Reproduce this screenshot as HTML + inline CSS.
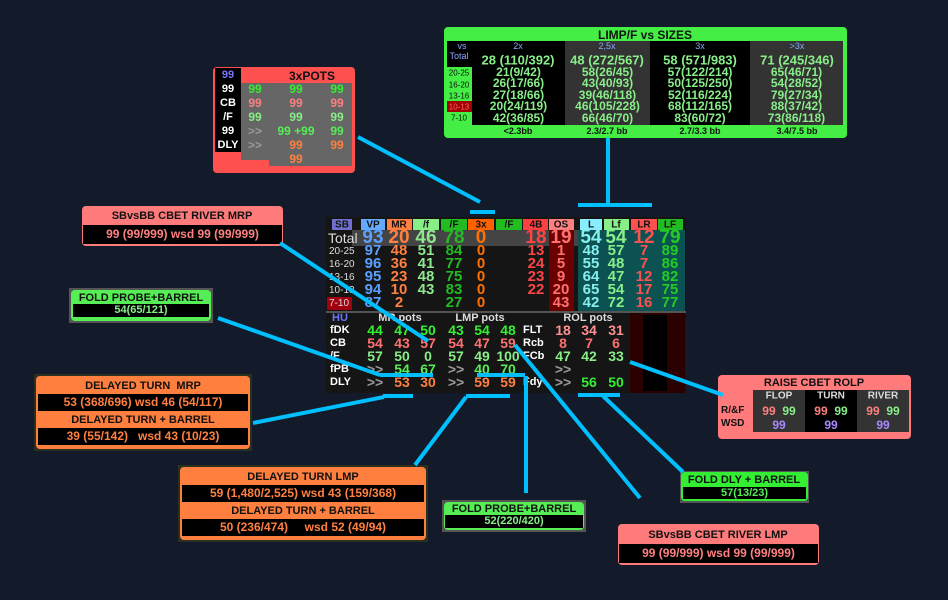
<!DOCTYPE html>
<html><head><meta charset="utf-8"><style>
*{margin:0;padding:0;box-sizing:border-box}
body{width:948px;height:600px;background:#131a2a;position:relative;overflow:hidden;font-family:"Liberation Sans",sans-serif;font-weight:bold}
.a{position:absolute;white-space:nowrap}
.c{position:absolute;white-space:nowrap;text-align:center;transform:translate(-50%,-50%)}
.box{position:absolute;border-radius:4px}
.row{position:absolute;background:#000;text-align:center;white-space:nowrap}
</style></head><body>

<!-- LIMP/F vs SIZES -->
<div class="box" style="left:444px;top:27px;width:403px;height:111px;background:#44ee44"></div>
<div class="c" style="left:645px;top:35px;font-size:12px;color:#111">LIMP/F vs SIZES</div>
<div class="a" style="left:447px;top:41px;width:396px;height:84px;background:#000"></div>
<div class="a" style="left:447px;top:67px;width:25px;height:58px;background:#44ee44"></div>
<div class="a" style="left:447px;top:101px;width:25px;height:11px;background:#a00000"></div>
<div class="a" style="left:565px;top:41px;width:85px;height:84px;background:#333"></div>
<div class="a" style="left:750px;top:41px;width:93px;height:84px;background:#333"></div>
<div class="c" style="left:462px;top:46px;font-size:9px;color:#88aaff;font-weight:normal">vs</div>
<div class="c" style="left:459px;top:56px;font-size:9px;color:#88aaff;font-weight:normal">Total</div>
<div class="c" style="left:518px;top:46px;font-size:9px;color:#88aaff;font-weight:normal">2x</div>
<div class="c" style="left:607px;top:46px;font-size:9px;color:#88aaff;font-weight:normal">2,5x</div>
<div class="c" style="left:700px;top:46px;font-size:9px;color:#88aaff;font-weight:normal">3x</div>
<div class="c" style="left:797px;top:46px;font-size:9px;color:#88aaff;font-weight:normal">&gt;3x</div>
<div class="c" style="left:518px;top:60px;font-size:13px;color:#88ee88">28 (110/392)</div>
<div class="c" style="left:607px;top:60px;font-size:13px;color:#88ee88">48 (272/567)</div>
<div class="c" style="left:700px;top:60px;font-size:13px;color:#88ee88">58 (571/983)</div>
<div class="c" style="left:797px;top:60px;font-size:13px;color:#88ee88">71 (245/346)</div>
<div class="c" style="left:459px;top:73px;font-size:8px;color:#111;font-weight:normal">20-25</div>
<div class="c" style="left:459px;top:85px;font-size:8px;color:#111;font-weight:normal">16-20</div>
<div class="c" style="left:459px;top:96px;font-size:8px;color:#111;font-weight:normal">13-16</div>
<div class="c" style="left:459px;top:107px;font-size:8px;color:#ff6666;font-weight:normal">10-13</div>
<div class="c" style="left:459px;top:118px;font-size:8px;color:#111;font-weight:normal">7-10</div>
<div class="a" style="left:472px;top:67px;width:93px;font-size:12px;color:#88ee88;line-height:11.4px;text-align:center">21(9/42)<br>26(17/66)<br>27(18/66)<br>20(24/119)<br>42(36/85)</div>
<div class="a" style="left:565px;top:67px;width:85px;font-size:12px;color:#88ee88;line-height:11.4px;text-align:center">58(26/45)<br>43(40/93)<br>39(46/118)<br>46(105/228)<br>66(46/70)</div>
<div class="a" style="left:650px;top:67px;width:100px;font-size:12px;color:#88ee88;line-height:11.4px;text-align:center">57(122/214)<br>50(125/250)<br>52(116/224)<br>68(112/165)<br>83(60/72)</div>
<div class="a" style="left:750px;top:67px;width:93px;font-size:12px;color:#88ee88;line-height:11.4px;text-align:center">65(46/71)<br>54(28/52)<br>79(27/34)<br>88(37/42)<br>73(86/118)</div>
<div class="c" style="left:518px;top:131px;font-size:9px;color:#111">&lt;2.3bb</div>
<div class="c" style="left:607px;top:131px;font-size:9px;color:#111">2.3/2.7 bb</div>
<div class="c" style="left:700px;top:131px;font-size:9px;color:#111">2.7/3.3 bb</div>
<div class="c" style="left:797px;top:131px;font-size:9px;color:#111">3.4/7.5 bb</div>

<!-- 3xPOTS -->
<div class="box" style="left:213px;top:67px;width:142px;height:106px;background:#ff5050"></div>
<div class="a" style="left:215px;top:68px;width:26px;height:84px;background:#000"></div>
<div class="a" style="left:241px;top:83px;width:111px;height:77px;background:#666"></div>
<div class="a" style="left:269px;top:152px;width:83px;height:14px;background:#666"></div>
<div class="c" style="left:312px;top:76px;font-size:12px;color:#111">3xPOTS</div>
<div class="c" style="left:228px;top:75px;font-size:11px;color:#7777ff">99</div>
<div class="c" style="left:228px;top:89px;font-size:11px;color:#fff">99</div>
<div class="c" style="left:228px;top:103px;font-size:11px;color:#fff">CB</div>
<div class="c" style="left:228px;top:117px;font-size:11px;color:#fff">/F</div>
<div class="c" style="left:228px;top:131px;font-size:11px;color:#fff">99</div>
<div class="c" style="left:228px;top:145px;font-size:11px;color:#fff">DLY</div>
<div class="c" style="left:255px;top:89px;font-size:12px;color:#33ee33">99</div>
<div class="c" style="left:296px;top:89px;font-size:12px;color:#33ee33">99</div>
<div class="c" style="left:337px;top:89px;font-size:12px;color:#33ee33">99</div>
<div class="c" style="left:255px;top:103px;font-size:12px;color:#ff8080">99</div>
<div class="c" style="left:296px;top:103px;font-size:12px;color:#ff8080">99</div>
<div class="c" style="left:337px;top:103px;font-size:12px;color:#ff8080">99</div>
<div class="c" style="left:255px;top:117px;font-size:12px;color:#88ee88">99</div>
<div class="c" style="left:296px;top:117px;font-size:12px;color:#88ee88">99</div>
<div class="c" style="left:337px;top:117px;font-size:12px;color:#88ee88">99</div>
<div class="c" style="left:255px;top:131px;font-size:12px;color:#999">&gt;&gt;</div>
<div class="c" style="left:296px;top:131px;font-size:12px;color:#55ee55">99 +99</div>
<div class="c" style="left:337px;top:131px;font-size:12px;color:#55ee55">99</div>
<div class="c" style="left:255px;top:145px;font-size:12px;color:#999">&gt;&gt;</div>
<div class="c" style="left:296px;top:145px;font-size:12px;color:#ff8040">99</div>
<div class="c" style="left:337px;top:145px;font-size:12px;color:#ff8040">99</div>
<div class="c" style="left:296px;top:159px;font-size:12px;color:#ff8040">99</div>

<!-- MAIN HUD -->
<div class="a" style="left:326px;top:217px;width:360px;height:176px;background:#151515"></div>
<div class="a" style="left:352px;top:230px;width:226px;height:16px;background:#444"></div>
<div class="a" style="left:549px;top:230px;width:25px;height:82px;background:#6a0000"></div>
<div class="a" style="left:578px;top:230px;width:107px;height:82px;background:#0d5252"></div>
<div class="a" style="left:326px;top:311px;width:360px;height:2px;background:#555"></div>
<div class="a" style="left:630px;top:313px;width:55px;height:80px;background:#2a0000"></div>
<div class="a" style="left:643px;top:315px;width:24px;height:76px;background:#000"></div>
<div class="a" style="left:327px;top:297px;width:25px;height:13px;background:#a00010"></div>

<div class="a" style="left:332px;top:219px;width:20px;height:11px;background:#7070d0"></div>
<div class="a" style="left:361px;top:219px;width:24px;height:11px;background:#66aaff"></div>
<div class="a" style="left:387px;top:219px;width:25px;height:11px;background:#ff8040"></div>
<div class="a" style="left:413px;top:219px;width:26px;height:11px;background:#88ee88"></div>
<div class="a" style="left:441px;top:219px;width:26px;height:11px;background:#22bb22"></div>
<div class="a" style="left:468px;top:219px;width:26px;height:11px;background:#ff6000"></div>
<div class="a" style="left:496px;top:219px;width:26px;height:11px;background:#22bb22"></div>
<div class="a" style="left:523px;top:219px;width:25px;height:11px;background:#ff4040"></div>
<div class="a" style="left:549px;top:219px;width:25px;height:11px;background:#ff8080"></div>
<div class="a" style="left:580px;top:219px;width:22px;height:11px;background:#88eeff"></div>
<div class="a" style="left:604px;top:219px;width:25px;height:11px;background:#88ee88"></div>
<div class="a" style="left:631px;top:219px;width:26px;height:11px;background:#ff5050"></div>
<div class="a" style="left:658px;top:219px;width:25px;height:11px;background:#22bb22"></div>
<div class="c" style="left:342px;top:225px;font-size:10px;color:#111">SB</div>
<div class="c" style="left:373px;top:225px;font-size:10px;color:#111">VP</div>
<div class="c" style="left:399px;top:225px;font-size:10px;color:#111">MR</div>
<div class="c" style="left:426px;top:225px;font-size:10px;color:#111">/f</div>
<div class="c" style="left:454px;top:225px;font-size:10px;color:#111">/F</div>
<div class="c" style="left:481px;top:225px;font-size:10px;color:#111">3x</div>
<div class="c" style="left:509px;top:225px;font-size:10px;color:#111">/F</div>
<div class="c" style="left:536px;top:225px;font-size:10px;color:#111">4B</div>
<div class="c" style="left:561px;top:225px;font-size:10px;color:#111">OS</div>
<div class="c" style="left:591px;top:225px;font-size:10px;color:#111">L</div>
<div class="c" style="left:616px;top:225px;font-size:10px;color:#111">Lf</div>
<div class="c" style="left:644px;top:225px;font-size:10px;color:#111">LR</div>
<div class="c" style="left:670px;top:225px;font-size:10px;color:#111">LF</div>

<div class="a" style="left:328px;top:230px;font-size:14px;color:#ddd;font-weight:normal">Total</div>
<div class="a" style="left:329px;top:245px;font-size:10px;color:#ddd;font-weight:normal;line-height:13px">20-25<br>16-20<br>13-16<br>10-13<br>7-10</div>

<div class="c" style="left:373px;top:238px;font-size:19px;color:#5aa0ff">93</div>
<div class="c" style="left:399px;top:238px;font-size:19px;color:#ff8040">20</div>
<div class="c" style="left:426px;top:238px;font-size:19px;color:#8de88d">46</div>
<div class="c" style="left:454px;top:238px;font-size:19px;color:#22bb22">78</div>
<div class="c" style="left:481px;top:238px;font-size:19px;color:#ff7000">0</div>
<div class="c" style="left:536px;top:238px;font-size:19px;color:#ff4444">18</div>
<div class="c" style="left:561px;top:238px;font-size:19px;color:#ff7070">19</div>
<div class="c" style="left:591px;top:238px;font-size:19px;color:#88eeee">54</div>
<div class="c" style="left:616px;top:238px;font-size:19px;color:#88ee88">54</div>
<div class="c" style="left:644px;top:238px;font-size:19px;color:#ff5050">12</div>
<div class="c" style="left:670px;top:238px;font-size:19px;color:#22cc22">79</div>

<div class="a" style="left:373px;top:244px;transform:translateX(-50%);font-size:15px;line-height:13px;color:#5aa0ff;text-align:center">97<br>96<br>95<br>94<br>87</div>
<div class="a" style="left:399px;top:244px;transform:translateX(-50%);font-size:15px;line-height:13px;color:#ff8040;text-align:center">48<br>36<br>23<br>10<br>2</div>
<div class="a" style="left:426px;top:244px;transform:translateX(-50%);font-size:15px;line-height:13px;color:#8de88d;text-align:center">51<br>41<br>48<br>43<br>&nbsp;</div>
<div class="a" style="left:454px;top:244px;transform:translateX(-50%);font-size:15px;line-height:13px;color:#22bb22;text-align:center">84<br>77<br>75<br>83<br>27</div>
<div class="a" style="left:481px;top:244px;transform:translateX(-50%);font-size:15px;line-height:13px;color:#ff7000;text-align:center">0<br>0<br>0<br>0<br>0</div>
<div class="a" style="left:536px;top:244px;transform:translateX(-50%);font-size:15px;line-height:13px;color:#ff4444;text-align:center">13<br>24<br>23<br>22<br>&nbsp;</div>
<div class="a" style="left:561px;top:244px;transform:translateX(-50%);font-size:15px;line-height:13px;color:#ff7070;text-align:center">1<br>5<br>9<br>20<br>43</div>
<div class="a" style="left:591px;top:244px;transform:translateX(-50%);font-size:15px;line-height:13px;color:#88eeee;text-align:center">48<br>55<br>64<br>65<br>42</div>
<div class="a" style="left:616px;top:244px;transform:translateX(-50%);font-size:15px;line-height:13px;color:#88ee88;text-align:center">57<br>48<br>47<br>54<br>72</div>
<div class="a" style="left:644px;top:244px;transform:translateX(-50%);font-size:15px;line-height:13px;color:#ff5050;text-align:center">7<br>7<br>12<br>17<br>16</div>
<div class="a" style="left:670px;top:244px;transform:translateX(-50%);font-size:15px;line-height:13px;color:#22cc22;text-align:center">89<br>86<br>82<br>75<br>77</div>

<!-- lower section -->
<div class="c" style="left:340px;top:318px;font-size:11px;color:#6677ff">HU</div>
<div class="c" style="left:400px;top:318px;font-size:11px;color:#ddd">MR pots</div>
<div class="c" style="left:480px;top:318px;font-size:11px;color:#ddd">LMP pots</div>
<div class="c" style="left:588px;top:318px;font-size:11px;color:#ddd">ROL pots</div>
<div class="a" style="left:330px;top:324px;font-size:11px;line-height:13px;color:#fff">fDK<br>CB<br>/F<br>fPB<br>DLY</div>
<div class="a" style="left:523px;top:324px;font-size:11px;line-height:13px;color:#fff">FLT<br>Rcb<br>FCb<br><br>Fdy</div>
<div class="a" style="left:375px;top:324px;transform:translateX(-50%);font-size:14px;line-height:13px;text-align:center"><span style="color:#33ee33">44</span><br><span style="color:#ff7070">54</span><br><span style="color:#88ee88">57</span><br><span style="color:#999">&gt;&gt;</span><br><span style="color:#999">&gt;&gt;</span></div>
<div class="a" style="left:402px;top:324px;transform:translateX(-50%);font-size:14px;line-height:13px;text-align:center"><span style="color:#33ee33">47</span><br><span style="color:#ff7070">43</span><br><span style="color:#88ee88">50</span><br><span style="color:#55ee55">54</span><br><span style="color:#ff8040">53</span></div>
<div class="a" style="left:428px;top:324px;transform:translateX(-50%);font-size:14px;line-height:13px;text-align:center"><span style="color:#33ee33">50</span><br><span style="color:#ff7070">57</span><br><span style="color:#88ee88">0</span><br><span style="color:#55ee55">67</span><br><span style="color:#ff8040">30</span></div>
<div class="a" style="left:456px;top:324px;transform:translateX(-50%);font-size:14px;line-height:13px;text-align:center"><span style="color:#33ee33">43</span><br><span style="color:#ff7070">54</span><br><span style="color:#88ee88">57</span><br><span style="color:#999">&gt;&gt;</span><br><span style="color:#999">&gt;&gt;</span></div>
<div class="a" style="left:482px;top:324px;transform:translateX(-50%);font-size:14px;line-height:13px;text-align:center"><span style="color:#33ee33">54</span><br><span style="color:#ff7070">47</span><br><span style="color:#88ee88">49</span><br><span style="color:#55ee55">40</span><br><span style="color:#ff8040">59</span></div>
<div class="a" style="left:508px;top:324px;transform:translateX(-50%);font-size:14px;line-height:13px;text-align:center"><span style="color:#33ee33">48</span><br><span style="color:#ff7070">59</span><br><span style="color:#88ee88">100</span><br><span style="color:#55ee55">70</span><br><span style="color:#ff8040">59</span></div>
<div class="a" style="left:563px;top:324px;transform:translateX(-50%);font-size:14px;line-height:13px;text-align:center"><span style="color:#ff9090">18</span><br><span style="color:#ff7070">8</span><br><span style="color:#88ee88">47</span><br><span style="color:#999">&gt;&gt;</span><br><span style="color:#999">&gt;&gt;</span></div>
<div class="a" style="left:589px;top:324px;transform:translateX(-50%);font-size:14px;line-height:13px;text-align:center"><span style="color:#ff9090">34</span><br><span style="color:#ff7070">7</span><br><span style="color:#88ee88">42</span><br>&nbsp;<br><span style="color:#33ee33">56</span></div>
<div class="a" style="left:616px;top:324px;transform:translateX(-50%);font-size:14px;line-height:13px;text-align:center"><span style="color:#ff9090">31</span><br><span style="color:#ff7070">6</span><br><span style="color:#88ee88">33</span><br>&nbsp;<br><span style="color:#33ee33">50</span></div>

<!-- SBvsBB MRP -->
<div class="box" style="left:82px;top:206px;width:201px;height:40px;background:#ff7b7b"></div>
<div class="c" style="left:182px;top:216px;font-size:11px;color:#111">SBvsBB CBET RIVER MRP</div>
<div class="row" style="left:83px;top:225px;width:199px;height:19px;font-size:12px;line-height:19px;color:#ff8080">99 (99/999) wsd 99 (99/999)</div>

<!-- FOLD PROBE left -->
<div class="a" style="left:69px;top:288px;width:144px;height:35px;background:#555"></div>
<div class="box" style="left:71px;top:290px;width:140px;height:31px;background:#55ee55"></div>
<div class="c" style="left:141px;top:298px;font-size:11px;color:#111">FOLD PROBE+BARREL</div>
<div class="row" style="left:73px;top:304px;width:136px;height:13px;font-size:11px;line-height:13px;color:#88ee88">54(65/121)</div>

<!-- DELAYED MRP -->
<div class="a" style="left:34px;top:374px;width:218px;height:77px;background:#2a3020"></div>
<div class="box" style="left:36px;top:376px;width:214px;height:73px;background:#ff7f3f"></div>
<div class="c" style="left:143px;top:386px;font-size:11px;color:#111">DELAYED TURN&nbsp; MRP</div>
<div class="row" style="left:38px;top:394px;width:210px;height:17px;font-size:12px;line-height:17px;color:#ff8040">53 (368/696) wsd 46 (54/117)</div>
<div class="c" style="left:143px;top:420px;font-size:11px;color:#111">DELAYED TURN + BARREL</div>
<div class="row" style="left:38px;top:428px;width:210px;height:17px;font-size:12px;line-height:17px;color:#ff8040">39 (55/142) &nbsp; wsd 43 (10/23)</div>

<!-- DELAYED LMP -->
<div class="a" style="left:178px;top:465px;width:250px;height:77px;background:#2a3020"></div>
<div class="box" style="left:180px;top:467px;width:246px;height:73px;background:#ff7f3f"></div>
<div class="c" style="left:303px;top:477px;font-size:11px;color:#111">DELAYED TURN LMP</div>
<div class="row" style="left:182px;top:485px;width:242px;height:17px;font-size:12px;line-height:17px;color:#ff8040">59 (1,480/2,525) wsd 43 (159/368)</div>
<div class="c" style="left:303px;top:511px;font-size:11px;color:#111">DELAYED TURN + BARREL</div>
<div class="row" style="left:182px;top:519px;width:242px;height:17px;font-size:12px;line-height:17px;color:#ff8040">50 (236/474) &nbsp; &nbsp; wsd 52 (49/94)</div>

<!-- FOLD PROBE bottom -->
<div class="a" style="left:442px;top:500px;width:144px;height:32px;background:#555"></div>
<div class="box" style="left:444px;top:502px;width:140px;height:28px;background:#55ee55"></div>
<div class="c" style="left:514px;top:509px;font-size:11px;color:#111">FOLD PROBE+BARREL</div>
<div class="row" style="left:445px;top:515px;width:138px;height:13px;font-size:11px;line-height:13px;color:#88ee88">52(220/420)</div>

<!-- RAISE CBET ROLP -->
<div class="box" style="left:718px;top:375px;width:193px;height:64px;background:#ff7b7b"></div>
<div class="c" style="left:814px;top:383px;font-size:11px;color:#111">RAISE CBET ROLP</div>
<div class="a" style="left:753px;top:390px;width:52px;height:42px;background:#333"></div>
<div class="a" style="left:805px;top:390px;width:52px;height:42px;background:#000"></div>
<div class="a" style="left:857px;top:390px;width:52px;height:42px;background:#333"></div>
<div class="c" style="left:779px;top:396px;font-size:10px;color:#ddd">FLOP</div>
<div class="c" style="left:831px;top:396px;font-size:10px;color:#ddd">TURN</div>
<div class="c" style="left:883px;top:396px;font-size:10px;color:#ddd">RIVER</div>
<div class="a" style="left:721px;top:404px;font-size:10px;color:#111;line-height:13px">R/&amp;F<br>WSD</div>
<div class="c" style="left:779px;top:411px;font-size:12px"><span style="color:#ff8080">99</span> &nbsp;<span style="color:#88ee88">99</span></div>
<div class="c" style="left:831px;top:411px;font-size:12px"><span style="color:#ff8080">99</span> &nbsp;<span style="color:#88ee88">99</span></div>
<div class="c" style="left:883px;top:411px;font-size:12px"><span style="color:#ff8080">99</span> &nbsp;<span style="color:#88ee88">99</span></div>
<div class="c" style="left:779px;top:425px;font-size:12px;color:#aa88ff">99</div>
<div class="c" style="left:831px;top:425px;font-size:12px;color:#aa88ff">99</div>
<div class="c" style="left:883px;top:425px;font-size:12px;color:#aa88ff">99</div>

<!-- FOLD DLY -->
<div class="a" style="left:680px;top:471px;width:129px;height:32px;background:#555"></div>
<div class="box" style="left:681px;top:472px;width:127px;height:29px;background:#33ee33"></div>
<div class="c" style="left:744px;top:480px;font-size:11px;color:#111">FOLD DLY + BARREL</div>
<div class="row" style="left:683px;top:487px;width:123px;height:12px;font-size:11px;line-height:12px;color:#55ee55">57(13/23)</div>

<!-- SBvsBB LMP -->
<div class="box" style="left:618px;top:524px;width:201px;height:41px;background:#ff7b7b"></div>
<div class="c" style="left:718px;top:535px;font-size:11px;color:#111">SBvsBB CBET RIVER LMP</div>
<div class="row" style="left:619px;top:544px;width:199px;height:19px;font-size:12px;line-height:19px;color:#ff8080">99 (99/999) wsd 99 (99/999)</div>

<!-- connectors -->
<svg class="a" style="left:0;top:0" width="948" height="600" stroke="#00bfff" stroke-width="4" fill="none">
<line x1="358" y1="137" x2="480" y2="202"/>
<line x1="470" y1="212" x2="495" y2="212"/>
<line x1="608" y1="138" x2="608" y2="205"/>
<line x1="578" y1="205" x2="652" y2="205"/>
<line x1="280" y1="243" x2="428" y2="341"/>
<line x1="218" y1="318" x2="380" y2="375"/>
<line x1="380" y1="375" x2="433" y2="375"/>
<line x1="253" y1="423" x2="384" y2="397"/>
<line x1="383" y1="396" x2="413" y2="396"/>
<line x1="415" y1="465" x2="466" y2="397"/>
<line x1="466" y1="396" x2="510" y2="396"/>
<line x1="526" y1="376" x2="526" y2="493"/>
<line x1="477" y1="375" x2="525" y2="375"/>
<line x1="640" y1="498" x2="515" y2="345"/>
<line x1="683" y1="472" x2="603" y2="396"/>
<line x1="578" y1="395" x2="620" y2="395"/>
<line x1="723" y1="395" x2="630" y2="362"/>
</svg>
</body></html>
